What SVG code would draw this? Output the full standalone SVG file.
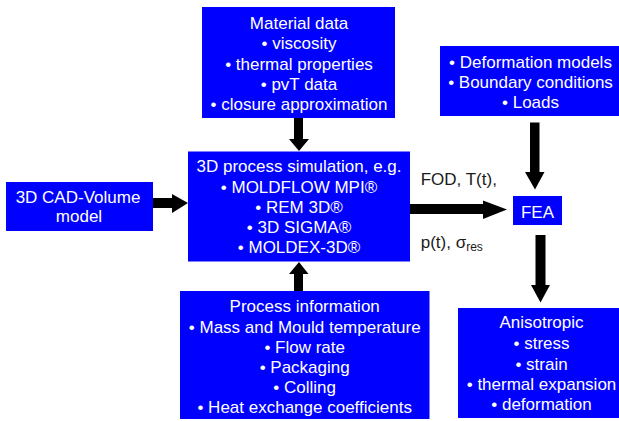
<svg xmlns="http://www.w3.org/2000/svg" width="619" height="421" viewBox="0 0 619 421">
<style>
.box{fill:#0000FF}
.t{font-family:"Liberation Sans",Arial,sans-serif;font-size:17px;fill:#FFFFFF;text-anchor:middle}
.lbl{font-family:"Liberation Sans",Arial,sans-serif;font-size:17px;fill:#1a1a1a}
.arr{fill:#000000}
</style>
<rect width="619" height="421" fill="#FFFFFF"/>
<g id="material">
<rect class="box" x="202" y="7" width="193" height="111"/>
<text class="t" x="299" y="28.5">Material data</text>
<text class="t" x="299" y="49">• viscosity</text>
<text class="t" x="299" y="69.5">• thermal properties</text>
<text class="t" x="299" y="89.5">• pvT data</text>
<text class="t" x="299" y="110">• closure approximation</text>
</g>
<g id="deformation">
<rect class="box" x="440" y="46" width="185" height="70"/>
<text class="t" x="530.5" y="67.7">• Deformation models</text>
<text class="t" x="530.5" y="88.3">• Boundary conditions</text>
<text class="t" x="530.5" y="108.3">• Loads</text>
</g>
<g id="cad">
<rect class="box" x="6" y="182" width="147" height="49"/>
<text class="t" x="78" y="203.3">3D CAD-Volume</text>
<text class="t" x="79" y="222.3">model</text>
</g>
<g id="process">
<rect class="box" x="188" y="151.5" width="222" height="110"/>
<text class="t" x="299" y="172.3">3D process simulation, e.g.</text>
<text class="t" x="299" y="192.7">• MOLDFLOW MPI®</text>
<text class="t" x="299" y="212.7">• REM 3D®</text>
<text class="t" x="299" y="233">• 3D SIGMA®</text>
<text class="t" x="299" y="253.3">• MOLDEX-3D®</text>
</g>
<g id="fea">
<rect class="box" x="513" y="196" width="49" height="29"/>
<text class="t" x="537.5" y="217.7">FEA</text>
</g>
<g id="processinfo">
<rect class="box" x="180" y="291" width="249.5" height="128"/>
<text class="t" x="304.7" y="311.7">Process information</text>
<text class="t" x="304.7" y="333">• Mass and Mould temperature</text>
<text class="t" x="304.7" y="352.7">• Flow rate</text>
<text class="t" x="304.7" y="373.3">• Packaging</text>
<text class="t" x="304.7" y="393.3">• Colling</text>
<text class="t" x="304.7" y="413.3">• Heat exchange coefficients</text>
</g>
<g id="anisotropic">
<rect class="box" x="458" y="308" width="167" height="110"/>
<text class="t" x="541.5" y="328.3">Anisotropic</text>
<text class="t" x="541.5" y="349">• stress</text>
<text class="t" x="541.5" y="370">• strain</text>
<text class="t" x="541.5" y="390">• thermal expansion</text>
<text class="t" x="541.5" y="410">• deformation</text>
</g>
<g id="connectors">
<polygon class="arr" points="153,198 172,198 172,194 188,203 172,213 172,208 153,208"/>
<polygon class="arr" points="294,118 303,118 303,139 309,139 299,151 289,139 294,139"/>
<polygon class="arr" points="294,291 303,291 303,274 308.5,274 299,262 289,274 294,274"/>
<polygon class="arr" points="410,204 483,204 483,200.5 507,209.5 483,219 483,214 410,214"/>
<polygon class="arr" points="530,122.5 539.5,122.5 539.5,172 544.5,172 535,189.5 525,172 530,172"/>
<polygon class="arr" points="535.5,235 545.5,235 545.5,285 550,285 540.5,302.5 531,285 535.5,285"/>
<text class="lbl" x="420.7" y="185">FOD, T(t),</text>
<text class="lbl" x="420.7" y="248.3">p(t), σ<tspan font-size="12" dy="2.5">res</tspan></text>
</g>
</svg>
